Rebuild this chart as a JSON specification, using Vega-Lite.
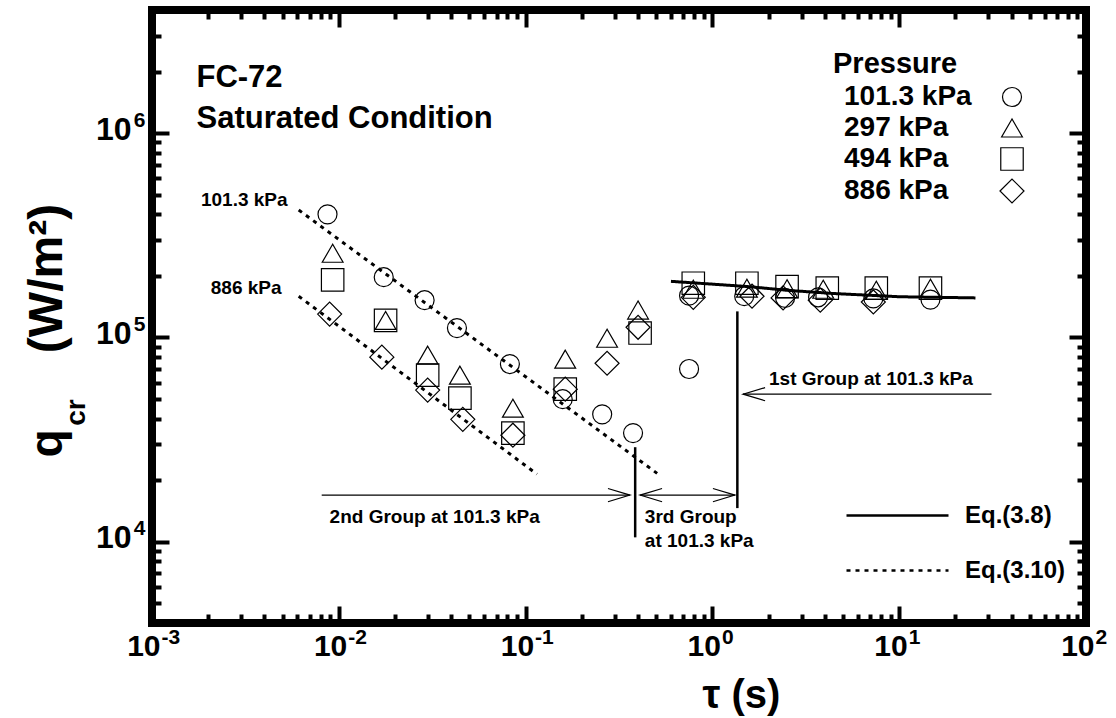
{
  "$schema": "https://vega.github.io/schema/vega-lite/v6.json",
  "width": 934,
  "height": 613,
  "autosize": {"type": "none"},
  "padding": {"left": 152, "top": 10, "right": 30, "bottom": 95},
  "config": {
    "font": "Liberation Sans",
    "view": {"stroke": "black", "strokeWidth": 8},
    "axis": {
      "grid": false, "domain": false, "labelColor": "black", "titleColor": "black", "tickColor": "black",
      "labelFont": "Liberation Sans", "titleFont": "Liberation Sans", "labelFlush": false,
      "labelOverlap": false, "labelBound": false, "titleFontWeight": "bold", "labelFontWeight": "bold"
    }
  },
  "datasets": {
    "points": [
      {"pressure": "101.3 kPa", "tau": 0.0087, "q": 400000},
      {"pressure": "101.3 kPa", "tau": 0.0174, "q": 197000},
      {"pressure": "101.3 kPa", "tau": 0.0288, "q": 152000},
      {"pressure": "101.3 kPa", "tau": 0.0429, "q": 111000},
      {"pressure": "101.3 kPa", "tau": 0.0824, "q": 74000},
      {"pressure": "101.3 kPa", "tau": 0.158, "q": 49800},
      {"pressure": "101.3 kPa", "tau": 0.257, "q": 42000},
      {"pressure": "101.3 kPa", "tau": 0.376, "q": 34000},
      {"pressure": "101.3 kPa", "tau": 0.75, "q": 70000},
      {"pressure": "101.3 kPa", "tau": 0.75, "q": 160000},
      {"pressure": "101.3 kPa", "tau": 1.48, "q": 159000},
      {"pressure": "101.3 kPa", "tau": 2.45, "q": 156000},
      {"pressure": "101.3 kPa", "tau": 3.68, "q": 157000},
      {"pressure": "101.3 kPa", "tau": 7.27, "q": 155000},
      {"pressure": "101.3 kPa", "tau": 14.7, "q": 153000},
      {"pressure": "297 kPa", "tau": 0.00927, "q": 258000},
      {"pressure": "297 kPa", "tau": 0.0178, "q": 121000},
      {"pressure": "297 kPa", "tau": 0.0299, "q": 81800},
      {"pressure": "297 kPa", "tau": 0.0445, "q": 65300},
      {"pressure": "297 kPa", "tau": 0.0855, "q": 45000},
      {"pressure": "297 kPa", "tau": 0.163, "q": 78200},
      {"pressure": "297 kPa", "tau": 0.273, "q": 99000},
      {"pressure": "297 kPa", "tau": 0.4, "q": 136000},
      {"pressure": "297 kPa", "tau": 0.79, "q": 172000},
      {"pressure": "297 kPa", "tau": 1.53, "q": 174000},
      {"pressure": "297 kPa", "tau": 2.51, "q": 173000},
      {"pressure": "297 kPa", "tau": 3.92, "q": 172000},
      {"pressure": "297 kPa", "tau": 7.54, "q": 170000},
      {"pressure": "297 kPa", "tau": 14.7, "q": 174000},
      {"pressure": "494 kPa", "tau": 0.00927, "q": 191000},
      {"pressure": "494 kPa", "tau": 0.0178, "q": 121000},
      {"pressure": "494 kPa", "tau": 0.0299, "q": 65300},
      {"pressure": "494 kPa", "tau": 0.0445, "q": 50400},
      {"pressure": "494 kPa", "tau": 0.0855, "q": 34000},
      {"pressure": "494 kPa", "tau": 0.163, "q": 55800},
      {"pressure": "494 kPa", "tau": 0.41, "q": 105000},
      {"pressure": "494 kPa", "tau": 0.79, "q": 184000},
      {"pressure": "494 kPa", "tau": 1.53, "q": 184000},
      {"pressure": "494 kPa", "tau": 2.51, "q": 177000},
      {"pressure": "494 kPa", "tau": 4.12, "q": 174000},
      {"pressure": "494 kPa", "tau": 7.54, "q": 174000},
      {"pressure": "494 kPa", "tau": 14.7, "q": 174000},
      {"pressure": "886 kPa", "tau": 0.00893, "q": 130000},
      {"pressure": "886 kPa", "tau": 0.017, "q": 80000},
      {"pressure": "886 kPa", "tau": 0.0299, "q": 55200},
      {"pressure": "886 kPa", "tau": 0.0461, "q": 39700},
      {"pressure": "886 kPa", "tau": 0.0855, "q": 33200},
      {"pressure": "886 kPa", "tau": 0.163, "q": 55800},
      {"pressure": "886 kPa", "tau": 0.273, "q": 74700},
      {"pressure": "886 kPa", "tau": 0.4, "q": 112000},
      {"pressure": "886 kPa", "tau": 0.79, "q": 157000},
      {"pressure": "886 kPa", "tau": 1.63, "q": 159000},
      {"pressure": "886 kPa", "tau": 2.39, "q": 156000},
      {"pressure": "886 kPa", "tau": 3.78, "q": 152000},
      {"pressure": "886 kPa", "tau": 7.27, "q": 149000}
    ],
    "eq": [
      {"eq": "Eq.(3.8)", "line": "3.8", "tau": 0.6, "q": 188000},
      {"eq": "Eq.(3.8)", "line": "3.8", "tau": 1.58, "q": 177000},
      {"eq": "Eq.(3.8)", "line": "3.8", "tau": 2.5, "q": 170000},
      {"eq": "Eq.(3.8)", "line": "3.8", "tau": 4.4, "q": 164000},
      {"eq": "Eq.(3.8)", "line": "3.8", "tau": 10.1, "q": 158000},
      {"eq": "Eq.(3.8)", "line": "3.8", "tau": 25.6, "q": 156000},
      {"eq": "Eq.(3.10)", "line": "3.10 at 101.3 kPa", "tau": 0.0061, "q": 420000},
      {"eq": "Eq.(3.10)", "line": "3.10 at 101.3 kPa", "tau": 0.506, "q": 21600},
      {"eq": "Eq.(3.10)", "line": "3.10 at 886 kPa", "tau": 0.0061, "q": 159000},
      {"eq": "Eq.(3.10)", "line": "3.10 at 886 kPa", "tau": 0.115, "q": 21400}
    ],
    "hrules": [
      {"tau": 1.46, "tau_end": 31.2, "q": 52700},
      {"tau": 0.0081, "tau_end": 0.362, "q": 16900},
      {"tau": 0.41, "tau_end": 1.32, "q": 16900}
    ],
    "vrules": [
      {"tau": 1.36, "q": 134000, "q_end": 14600},
      {"tau": 0.386, "q": 29000, "q_end": 10500}
    ],
    "heads": [
      {"tau": 1.46, "q": 52700, "dir": "left"},
      {"tau": 0.362, "q": 16900, "dir": "right"},
      {"tau": 0.41, "q": 16900, "dir": "left"},
      {"tau": 1.32, "q": 16900, "dir": "right"}
    ],
    "titles": [
      {"tau": 0.00173, "q": 1680000, "text": "FC-72"},
      {"tau": 0.00173, "q": 1058000, "text": "Saturated Condition"}
    ],
    "linelabels": [
      {"tau": 0.00532, "q": 470000, "text": "101.3 kPa"},
      {"tau": 0.00494, "q": 174000, "text": "886 kPa"}
    ],
    "groups": [
      {"tau": 2.01, "q": 58300, "text": "1st Group at 101.3 kPa"},
      {"tau": 0.00893, "q": 12300, "text": "2nd Group at 101.3 kPa"},
      {"tau": 0.435, "q": 12300, "text": "3rd Group"},
      {"tau": 0.435, "q": 9400, "text": "at 101.3 kPa"}
    ]
  },
  "resolve": {"axis": {"x": "independent", "y": "independent"}, "scale": {"shape": "independent", "size": "independent"}},
  "layer": [
    {
      "data": {"name": "eq"},
      "mark": {"type": "line", "color": "black", "strokeWidth": 3},
      "encoding": {
        "x": {"field": "tau", "type": "quantitative",
          "scale": {"type": "log", "domain": [0.001, 100], "nice": false},
          "axis": {"orient": "bottom", "values": [0.001, 0.01, 0.1, 1, 10, 100], "ticks": false,
            "labelExpr": "'10'", "labelFontSize": 30, "labelAlign": "right", "labelBaseline": "top",
            "labelPadding": 8, "labelOffset": 8,
            "title": "τ  (s)", "titleFontSize": 40, "titleX": 589, "titleY": 84,
            "titleAlign": "center", "titleBaseline": "alphabetic"}},
        "y": {"field": "q", "type": "quantitative",
          "scale": {"type": "log", "domain": [4000, 4000000], "nice": false},
          "axis": {"orient": "left", "values": [10000, 100000, 1000000], "ticks": false,
            "labelExpr": "'10'", "labelFontSize": 32, "labelAlign": "right", "labelBaseline": "middle",
            "labelPadding": 21, "labelOffset": -4,
            "title": "(W/m²)", "titleFontSize": 48, "titleX": -91, "titleY": 268, "titleAngle": -90,
            "titleAlign": "center", "titleBaseline": "alphabetic"}},
        "strokeDash": {"field": "eq", "type": "nominal",
          "scale": {"domain": ["Eq.(3.8)", "Eq.(3.10)"], "range": [[1, 0], [4, 5]]},
          "legend": {"orient": "none", "legendX": 727, "legendY": 487, "title": null, "padding": 0,
            "labelFontSize": 24, "labelFontWeight": "bold", "labelColor": "black", "labelFont": "Liberation Sans",
            "symbolType": "M-3,0L3,0", "symbolSize": 1156, "symbolStrokeWidth": 2.5, "symbolStrokeColor": "black",
            "labelOffset": 49, "rowPadding": 24}},
        "detail": {"field": "line", "type": "nominal"}
      }
    },
    {
      "data": {"name": "points"},
      "mark": {"type": "point", "filled": false, "stroke": "black", "strokeWidth": 1.2, "opacity": 1},
      "encoding": {
        "x": {"field": "tau", "type": "quantitative",
          "axis": {"orient": "bottom", "values": [0.002,0.003,0.004,0.005,0.006,0.007,0.008,0.009,0.02,0.03,0.04,0.05,0.06,0.07,0.08,0.09,0.2,0.3,0.4,0.5,0.6,0.7,0.8,0.9,2,3,4,5,6,7,8,9,20,30,40,50,60,70,80,90],
            "labels": false, "tickSize": -9, "tickWidth": 4, "title": null}},
        "y": {"field": "q", "type": "quantitative",
          "axis": {"orient": "left", "values": [5000,6000,7000,8000,9000,20000,30000,40000,50000,60000,70000,80000,90000,200000,300000,400000,500000,600000,700000,800000,900000,2000000,3000000],
            "labels": false, "tickSize": -9, "tickWidth": 4, "title": null}},
        "shape": {"field": "pressure", "type": "nominal", "title": "Pressure",
          "scale": {"domain": ["101.3 kPa", "297 kPa", "494 kPa", "886 kPa"], "range": ["circle", "triangle-up", "square", "diamond"]},
          "legend": {"orient": "none", "legendX": 681, "legendY": 40, "title": "Pressure", "padding": 0,
            "titleFontSize": 29, "titleFontWeight": "bold", "titleColor": "black", "titleFont": "Liberation Sans", "titlePadding": 4,
            "labelFontSize": 28, "labelFontWeight": "bold", "labelColor": "black", "labelFont": "Liberation Sans",
            "labelOffset": -182, "symbolOffset": 165, "rowPadding": 3, "symbolStrokeWidth": 1.2, "symbolStrokeColor": "black", "labelLimit": 400}},
        "size": {"field": "pressure", "type": "nominal", "title": "Pressure",
          "scale": {"domain": ["101.3 kPa", "297 kPa", "494 kPa", "886 kPa"], "range": [361, 576, 361, 576]},
          "legend": {"orient": "none", "legendX": 681, "legendY": 40, "title": "Pressure", "padding": 0,
            "titleFontSize": 29, "titleFontWeight": "bold", "titleColor": "black", "titleFont": "Liberation Sans", "titlePadding": 4,
            "labelFontSize": 28, "labelFontWeight": "bold", "labelColor": "black", "labelFont": "Liberation Sans",
            "labelOffset": -182, "symbolOffset": 165, "rowPadding": 3, "symbolStrokeWidth": 1.2, "symbolStrokeColor": "black", "labelLimit": 400}}
      }
    },
    {
      "data": {"name": "hrules"},
      "mark": {"type": "rule", "color": "black", "strokeWidth": 1.2},
      "encoding": {
        "x": {"field": "tau", "type": "quantitative",
          "axis": {"orient": "bottom", "values": [0.001, 0.01, 0.1, 1, 10, 100], "labels": false, "tickSize": -17, "tickWidth": 4, "title": null}},
        "x2": {"field": "tau_end"},
        "y": {"field": "q", "type": "quantitative",
          "axis": {"orient": "left", "values": [10000, 100000, 1000000], "labels": false, "tickSize": -17, "tickWidth": 4, "title": null}}
      }
    },
    {
      "data": {"name": "vrules"},
      "mark": {"type": "rule", "color": "black", "strokeWidth": 2.5},
      "encoding": {
        "x": {"field": "tau", "type": "quantitative",
          "axis": {"orient": "bottom", "values": [0.001, 0.01, 0.1, 1, 10, 100], "ticks": false,
            "labelExpr": "round(log(datum.value)/LN10) + ''", "labelFontSize": 21, "labelAlign": "left",
            "labelBaseline": "top", "labelPadding": 3, "labelOffset": 9, "title": null}},
        "y": {"field": "q", "type": "quantitative",
          "axis": {"orient": "left", "values": [10000, 100000, 1000000], "ticks": false,
            "labelExpr": "round(log(datum.value)/LN10) + ''", "labelFontSize": 21, "labelAlign": "right",
            "labelBaseline": "middle", "labelPadding": 7, "labelOffset": -13,
            "title": "q", "titleFontSize": 46, "titleX": -91, "titleY": 433, "titleAngle": -90,
            "titleAlign": "center", "titleBaseline": "alphabetic"}},
        "y2": {"field": "q_end"}
      }
    },
    {
      "data": {"name": "heads"},
      "mark": {"type": "point", "filled": false, "stroke": "black", "strokeWidth": 1.2, "size": 484, "opacity": 1},
      "encoding": {
        "x": {"field": "tau", "type": "quantitative",
          "axis": {"orient": "top", "values": [0.001, 0.01, 0.1, 1, 10, 100], "labels": false, "tickSize": -17, "tickWidth": 4, "title": null}},
        "y": {"field": "q", "type": "quantitative",
          "axis": {"orient": "right", "values": [10000, 100000, 1000000], "labels": false, "tickSize": -17, "tickWidth": 4, "title": null}},
        "shape": {"field": "dir", "type": "nominal",
          "scale": {"domain": ["left", "right"], "range": ["M2,-0.6L0,0L2,0.6", "M-2,-0.6L0,0L-2,0.6"]}, "legend": null}
      }
    },
    {
      "data": {"name": "titles"},
      "mark": {"type": "text", "font": "Liberation Sans", "fontWeight": "bold", "fontSize": 31, "align": "left", "baseline": "alphabetic", "color": "black"},
      "encoding": {
        "x": {"field": "tau", "type": "quantitative",
          "axis": {"orient": "top", "values": [0.002,0.003,0.004,0.005,0.006,0.007,0.008,0.009,0.02,0.03,0.04,0.05,0.06,0.07,0.08,0.09,0.2,0.3,0.4,0.5,0.6,0.7,0.8,0.9,2,3,4,5,6,7,8,9,20,30,40,50,60,70,80,90],
            "labels": false, "tickSize": -9, "tickWidth": 4, "title": null}},
        "y": {"field": "q", "type": "quantitative",
          "axis": {"orient": "right", "values": [5000,6000,7000,8000,9000,20000,30000,40000,50000,60000,70000,80000,90000,200000,300000,400000,500000,600000,700000,800000,900000,2000000,3000000],
            "labels": false, "tickSize": -9, "tickWidth": 4, "title": null}},
        "text": {"field": "text"}
      }
    },
    {
      "data": {"name": "linelabels"},
      "mark": {"type": "text", "font": "Liberation Sans", "fontWeight": "bold", "fontSize": 19, "align": "right", "baseline": "middle", "color": "black"},
      "encoding": {
        "x": {"field": "tau", "type": "quantitative", "axis": null},
        "y": {"field": "q", "type": "quantitative",
          "axis": {"orient": "left", "ticks": false, "labels": false, "values": [],
            "title": "cr", "titleFontSize": 28, "titleX": -68, "titleY": 402, "titleAngle": -90,
            "titleAlign": "center", "titleBaseline": "alphabetic"}},
        "text": {"field": "text"}
      }
    },
    {
      "data": {"name": "groups"},
      "mark": {"type": "text", "font": "Liberation Sans", "fontWeight": "bold", "fontSize": 19, "align": "left", "baseline": "alphabetic", "color": "black"},
      "encoding": {
        "x": {"field": "tau", "type": "quantitative", "axis": null},
        "y": {"field": "q", "type": "quantitative", "axis": null},
        "text": {"field": "text"}
      }
    }
  ]
}
